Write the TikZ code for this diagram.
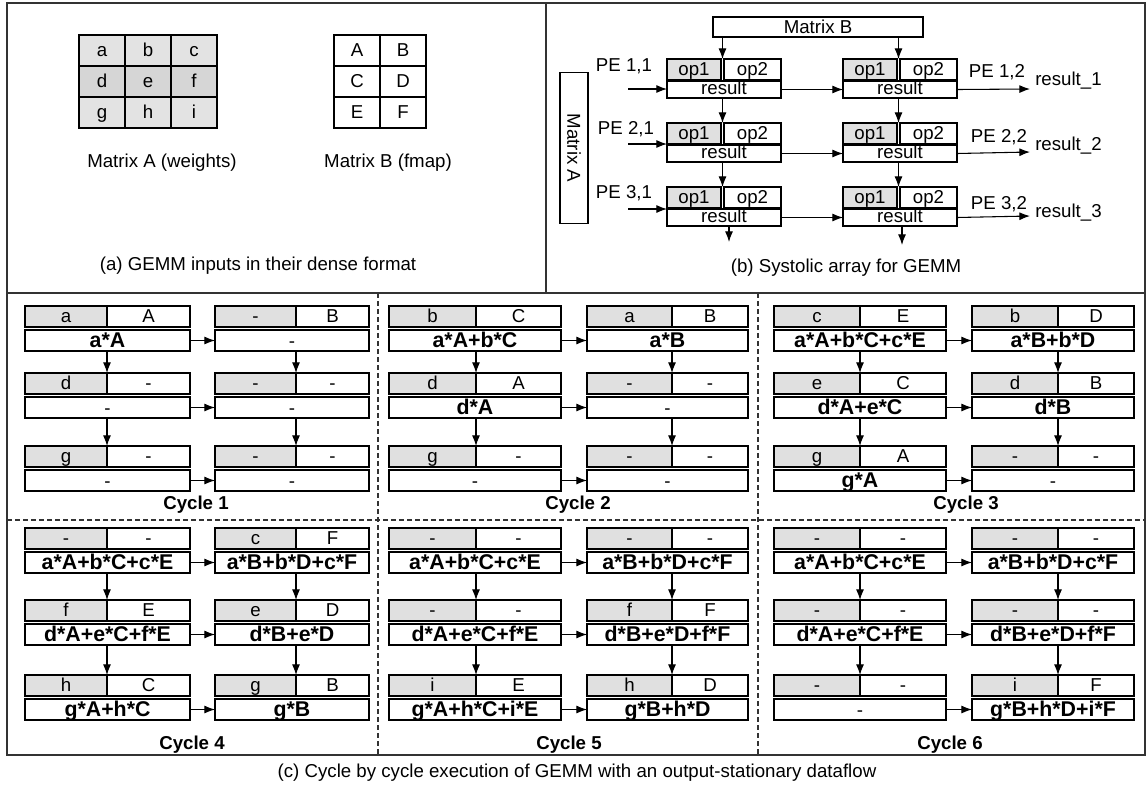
\documentclass[tikz,border=0pt]{standalone}
\usepackage{fontspec}
\setmainfont{Liberation Sans}
\usetikzlibrary{arrows.meta,calc}
\definecolor{opgray}{HTML}{E0E0E0}
\definecolor{gA}{HTML}{E3E3E3}
\definecolor{gB}{HTML}{D6D6D6}
\newcommand\fs[1]{\fontsize{#1}{#1}\selectfont}
\newcommand\dsh{{\normalfont\fs{14}-}}
\tikzset{
 box/.style={draw, line width=0.9pt, inner sep=0pt, outer sep=0pt, anchor=north west},
 opa/.style={box, fill=opgray, minimum height=15.75pt, font=\fs{14}, text height=9.5pt, text depth=1pt},
 opb/.style={box, fill=white, minimum height=15.75pt, font=\fs{14}, text height=9.5pt, text depth=1pt},
 res/.style={box, fill=white, minimum height=15.75pt, font=\bfseries\fs{16}, text height=11pt, text depth=0pt},
 sopa/.style={opa, minimum width=40.5pt},
 sopb/.style={opb, minimum width=42.75pt},
 sres/.style={box, fill=white, minimum width=85.5pt, minimum height=12.75pt, font=\fs{14}, text height=8pt, text depth=0pt},
 cell/.style={box, minimum width=34.5pt, minimum height=23.25pt, font=\fs{14}, text height=9.5pt, text depth=1pt},
 arr/.style={-{Latex[length=8pt,width=6pt]}, line width=0.8pt},
 lbl/.style={font=\fs{14}, inner sep=0pt},
 cyc/.style={font=\bfseries\fs{14}, inner sep=0pt},
 frame/.style={line width=0.8pt, draw=black!80},
 dline/.style={line width=0.8pt, draw=black!80, dash pattern=on 3.5pt off 2.5pt},
}
% name, x, y op, y result, total width, op1 width, op1, op2, result
\newcommand\pe[9]{%
 \node[opa, minimum width={(#6)*0.75pt}] (#1a) at (#2,#3) {#7};
 \node[opb, minimum width={(#5-#6)*0.75pt}] (#1b) at (#2+#6,#3) {#8};
 \node[res, minimum width={(#5)*0.75pt}] (#1r) at (#2,#4) {#9};
}
\newcommand\spe[3]{%
 \node[sopa] (#1a) at (#2,#3) {op1};
 \node[sopb] (#1b) at (#2+57,#3) {op2};
 \node[sres] (#1r) at (#2,#3+22) {result};
}
\newcommand\cycarrows[1]{%
 \foreach \r in {1,2,3} {\draw[arr] (#1l\r r.east) -- (#1r\r r.west);}
 \foreach \s/\t in {1/2,2/3} {
   \draw[arr] (#1l\s a.south east |- #1l\s r.south) -- (#1l\t a.north east);
   \draw[arr] (#1r\s a.south east |- #1r\s r.south) -- (#1r\t a.north east);
 }
}
\begin{document}
\begin{tikzpicture}[x=0.75pt,y=-0.75pt]
\useasboundingbox (0,0) rectangle (1148,790);
\fill[white] (0,0) rectangle (1148,790);
% frames
\draw[frame] (7,3) rectangle (1145,755);
\draw[frame] (7,293) -- (1145,293);
\draw[frame] (546,3) -- (546,293);
\draw[dline] (378,293) -- (378,755);
\draw[dline] (758,293) -- (758,755);
\draw[dline] (7,520) -- (1145,520);

% ---------- (a) ----------
\node[cell, fill=gA] (a11) at (79,35) {a};
\node[cell, fill=gA] (a12) at (125,35) {b};
\node[cell, fill=gA] (a13) at (171,35) {c};
\node[cell, fill=gB] (a21) at (79,66) {d};
\node[cell, fill=gB] (a22) at (125,66) {e};
\node[cell, fill=gB] (a23) at (171,66) {f};
\node[cell, fill=gA] (a31) at (79,97) {g};
\node[cell, fill=gA] (a32) at (125,97) {h};
\node[cell, fill=gA] (a33) at (171,97) {i};
\node[cell] (b11) at (334,35) {A};
\node[cell] (b12) at (380,35) {B};
\node[cell] (b21) at (334,66) {C};
\node[cell] (b22) at (380,66) {D};
\node[cell] (b31) at (334,97) {E};
\node[cell] (b32) at (380,97) {F};
\node[lbl] (capA) at (162,163) {Matrix A (weights)};
\node[lbl] (capB) at (388,163) {Matrix B (fmap)};
\node[lbl] (capa) at (258,266) {(a) GEMM inputs in their dense format};

% ---------- (b) ----------
\node[box, minimum width=157.5pt, minimum height=15pt, font=\fs{14}] (mB) at (713,17) {Matrix B};
\node[draw, line width=0.8pt, inner sep=0pt, minimum width=113.25pt, minimum height=21pt, rotate=-90, font=\fs{14}] (mA) at (574,148) {Matrix A};
\spe{p11}{667}{59}
\spe{p12}{843}{59}
\spe{p21}{667}{123}
\spe{p22}{843}{123}
\spe{p31}{667}{187}
\spe{p32}{843}{187}
\foreach \n in {11,12,21,22,31,32}{
  \coordinate (g\n) at ($(p\n a.north east)!0.5!(p\n b.north west)$);
}
\draw[arr] (mB.south -| g11) -- (g11);
\draw[arr] (mB.south -| g12) -- (g12);
\draw[arr] (p11r.south -| g21) -- (g21);
\draw[arr] (p21r.south -| g31) -- (g31);
\draw[arr] (p12r.south -| g22) -- (g22);
\draw[arr] (p22r.south -| g32) -- (g32);
\coordinate (e31) at (729,242);
\coordinate (e32) at (902,245);
\draw[arr] (p31r.south -| e31) -- (e31);
\draw[arr] (p32r.south -| e32) -- (e32);
\coordinate (i1) at (628,89);
\coordinate (i2) at (628,144);
\coordinate (i3) at (628,209);
\draw[arr] (i1) -- (i1 -| p11r.west);
\draw[arr] (i2) -- (i2 -| p21r.west);
\draw[arr] (i3) -- (i3 -| p31r.west);
\draw[arr] (p11r) -- (p12r);
\draw[arr] (p21r) -- (p22r);
\draw[arr] (p31r) -- (p32r);
\coordinate (o1) at (1030,89);
\coordinate (o2) at (1030,152);
\coordinate (o3) at (1030,216);
\draw[arr] (p12r.east) -- (o1);
\draw[arr] (p22r.east) -- (o2);
\draw[arr] (p32r.east) -- (o3);
\node[lbl] (l11) at (624,66) {PE 1,1};
\node[lbl] (l21) at (626,129) {PE 2,1};
\node[lbl] (l31) at (624,193) {PE 3,1};
\node[lbl] (l12) at (997,72) {PE 1,2};
\node[lbl] (l22) at (999,137) {PE 2,2};
\node[lbl] (l32) at (999,204) {PE 3,2};
\node[lbl, anchor=west] (r1) at (1035,81) {result\_1};
\node[lbl, anchor=west] (r2) at (1035,146) {result\_2};
\node[lbl, anchor=west] (r3) at (1035,213) {result\_3};
\node[lbl] (capb) at (846,268) {(b) Systolic array for GEMM};

% ---------- (c) ----------
% Cycle 1
\pe{c1l1}{25}{306}{330}{165}{82}{a}{A}{a*A}
\pe{c1r1}{215}{306}{330}{154}{81}{-}{B}{\dsh}
\pe{c1l2}{25}{373}{397}{165}{82}{d}{-}{\dsh}
\pe{c1r2}{215}{373}{397}{154}{81}{-}{-}{\dsh}
\pe{c1l3}{25}{446}{470}{165}{82}{g}{-}{\dsh}
\pe{c1r3}{215}{446}{470}{154}{81}{-}{-}{\dsh}
\cycarrows{c1}
\node[cyc] (k1) at (196,505) {Cycle 1};
% Cycle 2
\pe{c2l1}{389}{306}{330}{172}{87}{b}{C}{a*A+b*C}
\pe{c2r1}{587}{306}{330}{161}{85}{a}{B}{a*B}
\pe{c2l2}{389}{373}{397}{172}{87}{d}{A}{d*A}
\pe{c2r2}{587}{373}{397}{161}{85}{-}{-}{\dsh}
\pe{c2l3}{389}{446}{470}{172}{87}{g}{-}{\dsh}
\pe{c2r3}{587}{446}{470}{161}{85}{-}{-}{\dsh}
\cycarrows{c2}
\node[cyc] (k2) at (578,505) {Cycle 2};
% Cycle 3
\pe{c3l1}{774}{306}{330}{172}{86}{c}{E}{a*A+b*C+c*E}
\pe{c3r1}{972}{306}{330}{162}{86}{b}{D}{a*B+b*D}
\pe{c3l2}{774}{373}{397}{172}{86}{e}{C}{d*A+e*C}
\pe{c3r2}{972}{373}{397}{162}{86}{d}{B}{d*B}
\pe{c3l3}{774}{446}{470}{172}{86}{g}{A}{g*A}
\pe{c3r3}{972}{446}{470}{162}{86}{-}{-}{\dsh}
\cycarrows{c3}
\node[cyc] (k3) at (966,505) {Cycle 3};
% Cycle 4
\pe{c4l1}{25}{528}{552}{165}{82}{-}{-}{a*A+b*C+c*E}
\pe{c4r1}{215}{528}{552}{154}{81}{c}{F}{a*B+b*D+c*F}
\pe{c4l2}{25}{600}{624}{165}{82}{f}{E}{d*A+e*C+f*E}
\pe{c4r2}{215}{600}{624}{154}{81}{e}{D}{d*B+e*D}
\pe{c4l3}{25}{675}{699}{165}{82}{h}{C}{g*A+h*C}
\pe{c4r3}{215}{675}{699}{154}{81}{g}{B}{g*B}
\cycarrows{c4}
\node[cyc] (k4) at (192,745) {Cycle 4};
% Cycle 5
\pe{c5l1}{389}{528}{552}{172}{87}{-}{-}{a*A+b*C+c*E}
\pe{c5r1}{587}{528}{552}{161}{85}{-}{-}{a*B+b*D+c*F}
\pe{c5l2}{389}{600}{624}{172}{87}{-}{-}{d*A+e*C+f*E}
\pe{c5r2}{587}{600}{624}{161}{85}{f}{F}{d*B+e*D+f*F}
\pe{c5l3}{389}{675}{699}{172}{87}{i}{E}{g*A+h*C+i*E}
\pe{c5r3}{587}{675}{699}{161}{85}{h}{D}{g*B+h*D}
\cycarrows{c5}
\node[cyc] (k5) at (569,745) {Cycle 5};
% Cycle 6
\pe{c6l1}{774}{528}{552}{172}{86}{-}{-}{a*A+b*C+c*E}
\pe{c6r1}{972}{528}{552}{162}{86}{-}{-}{a*B+b*D+c*F}
\pe{c6l2}{774}{600}{624}{172}{86}{-}{-}{d*A+e*C+f*E}
\pe{c6r2}{972}{600}{624}{162}{86}{-}{-}{d*B+e*D+f*F}
\pe{c6l3}{774}{675}{699}{172}{86}{-}{-}{\dsh}
\pe{c6r3}{972}{675}{699}{162}{86}{i}{F}{g*B+h*D+i*F}
\cycarrows{c6}
\node[cyc] (k6) at (950,745) {Cycle 6};

\node[lbl] (capc) at (577,773) {(c) Cycle by cycle execution of GEMM with an output-stationary dataflow};
\end{tikzpicture}
\end{document}
